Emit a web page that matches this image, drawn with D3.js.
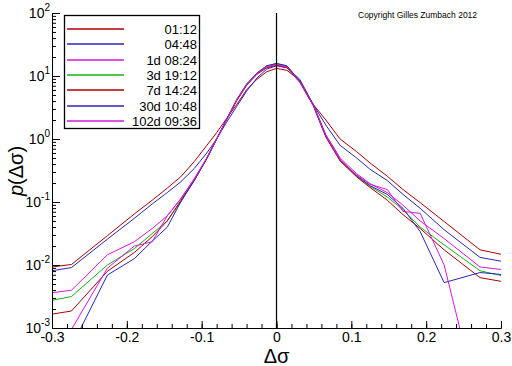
<!DOCTYPE html>
<html>
<head>
<meta charset="utf-8">
<script src="https://cdn.jsdelivr.net/npm/d3@7"></script>
<style>
  body { margin: 0; background: #fff; }
  svg { display: block; font-family: "Liberation Sans", Arial, sans-serif; }
  .domain { stroke: #000; }
</style>
</head>
<body>
<div id="chart"></div>
<script>
// x grid of the distributions (delta sigma)
var dsig = [-0.3, -0.274, -0.226, -0.19, -0.166, -0.146, -0.128, -0.11, -0.093, -0.08, -0.067, -0.053, -0.04, -0.026, -0.013,
  0, 0.014, 0.031, 0.049, 0.066, 0.085, 0.107, 0.125, 0.148, 0.169, 0.192, 0.224, 0.272, 0.3];

var labels = ['01:12', '04:48', '1d 08:24', '3d 19:12', '7d 14:24', '30d 10:48', '102d 09:36'];
var colors = ['#b00000', '#2828b8', '#d818d8', '#18b018', '#b00000', '#2828b8', '#d818d8'];

var p_0112 = [0.0093, 0.0102, 0.0292, 0.0646, 0.107, 0.166, 0.251, 0.437, 0.794, 1.26, 2.09, 3.55, 6.03, 8.91, 11.7,
  13.2, 12.3, 8.51, 3.55, 2.0, 1.0, 0.631, 0.417, 0.257, 0.158, 0.0977, 0.049, 0.0174, 0.0148];
var p_0448 = [0.0081, 0.0091, 0.0257, 0.055, 0.0933, 0.141, 0.209, 0.339, 0.603, 1.0, 1.82, 3.31, 5.75, 9.33, 12.9,
  14.5, 13.5, 8.91, 3.55, 1.66, 0.794, 0.501, 0.331, 0.219, 0.132, 0.0794, 0.0363, 0.0132, 0.0115];
var p_1d = [0.00363, 0.00398, 0.0145, 0.0234, 0.038, 0.0603, 0.112, 0.234, 0.501, 1.0, 2.0, 4.17, 7.24, 11.0, 14.1,
  15.5, 14.1, 8.32, 3.55, 1.17, 0.501, 0.282, 0.195, 0.141, 0.0891, 0.0501, 0.0263, 0.0093, 0.0085];
var p_3d = [0.00275, 0.00316, 0.01, 0.0182, 0.0316, 0.0501, 0.1, 0.219, 0.49, 1.0, 2.0, 4.17, 7.41, 11.2, 14.5,
  15.8, 14.5, 8.32, 3.47, 1.10, 0.457, 0.257, 0.178, 0.12, 0.0759, 0.0398, 0.0209, 0.0081, 0.0068];
var p_7d = [0.00166, 0.00186, 0.00794, 0.0158, 0.0282, 0.0501, 0.105, 0.219, 0.49, 1.0, 2.0, 4.07, 7.08, 10.7, 13.5,
  14.8, 13.5, 7.94, 3.39, 1.07, 0.447, 0.251, 0.17, 0.107, 0.0631, 0.038, 0.0174, 0.0063, 0.0055];
var p_30d = [0.00025, 0.0005, 0.00692, 0.0126, 0.024, 0.0398, 0.1, 0.219, 0.501, 1.0, 2.04, 4.27, 7.41, 11.2, 14.5,
  15.8, 14.5, 8.32, 3.55, 1.12, 0.468, 0.263, 0.182, 0.132, 0.0794, 0.0339, 0.00525, 0.00759, 0.00708];
var p_102d = [0.00025, 0.00095, 0.0089, 0.02, 0.0234, 0.0603, 0.112, 0.229, 0.501, 1.0, 2.0, 4.17, 7.24, 11.0, 14.1,
  15.1, 13.8, 8.13, 3.47, 1.12, 0.468, 0.269, 0.191, 0.158, 0.0708, 0.0661, 0.01, 0.00005, 0.0000126];

var series = [p_0112, p_0448, p_1d, p_3d, p_7d, p_30d, p_102d];

var xticks = [-0.3, -0.2, -0.1, 0, 0.1, 0.2, 0.3];
var xticklabels = ['-0.3', '-0.2', '-0.1', '0', '0.1', '0.2', '0.3'];
var xminor = d3.range(-15, 16).map(d => d / 50);
var ydecades = [1e-3, 1e-2, 1e-1, 1, 10, 100];
var yexp = ['-3', '-2', '-1', '0', '1', '2'];

var width = 512, height = 366;
var mLeft = 52, mRight = 501, mTop = 13, mBottom = 328;

var svg = d3.select('#chart').append('svg')
  .attr('width', width)
  .attr('height', height);

var x = d3.scaleLinear().domain([-0.3, 0.3]).range([mLeft, mRight]);
var y = d3.scaleLog().domain([1e-3, 1e2]).range([mBottom, mTop]);

svg.append('clipPath').attr('id', 'plotclip')
  .append('rect')
  .attr('x', mLeft).attr('y', mTop)
  .attr('width', mRight - mLeft).attr('height', mBottom - mTop);

// curves
var line = d3.line()
  .x((d, i) => x(dsig[i]))
  .y(d => y(d));

svg.append('g')
  .attr('clip-path', 'url(#plotclip)')
  .selectAll('path')
  .data(series)
  .enter()
  .append('path')
  .attr('d', line)
  .attr('fill', 'none')
  .attr('stroke', (d, i) => colors[i])
  .attr('stroke-width', 1);

// vertical line at 0
svg.append('line')
  .attr('x1', x(0)).attr('x2', x(0))
  .attr('y1', mTop).attr('y2', mBottom)
  .attr('stroke', '#000').attr('stroke-width', 1.2);

// x axis, ticks pointing up
svg.append('g')
  .attr('transform', 'translate(0,' + mBottom + ')')
  .call(d3.axisBottom(x).tickValues(xminor).tickSize(-4).tickFormat('').tickSizeOuter(0));
var xa = svg.append('g')
  .attr('transform', 'translate(0,' + mBottom + ')')
  .call(d3.axisBottom(x).tickValues(xticks).tickSize(-7).tickSizeOuter(0).tickPadding(4)
    .tickFormat((d, i) => xticklabels[i]));
xa.selectAll('text').attr('font-size', 14).attr('fill', '#000').attr('font-family', 'Liberation Sans, Arial, sans-serif');

// y axis (log), ticks pointing right
var yminor = [];
ydecades.slice(0, 5).forEach(d => { for (var k = 2; k < 10; k++) yminor.push(d * k); });
svg.append('g')
  .attr('transform', 'translate(' + mLeft + ',0)')
  .call(d3.axisLeft(y).tickValues(yminor).tickSize(-4).tickFormat('').tickSizeOuter(0));
svg.append('g')
  .attr('transform', 'translate(' + mLeft + ',0)')
  .call(d3.axisLeft(y).tickValues(ydecades).tickSize(-8).tickFormat('').tickSizeOuter(0));
svg.selectAll('.tick line').attr('stroke', '#000');

var ylab = svg.append('g').selectAll('text')
  .data(ydecades)
  .enter()
  .append('text')
  .attr('x', mLeft - 2)
  .attr('y', d => y(d) + 5)
  .attr('text-anchor', 'end')
  .attr('font-size', 14)
  .text('10');
ylab.append('tspan')
  .attr('dy', -7)
  .attr('font-size', 10)
  .text((d, i) => yexp[i]);

// axis titles
svg.append('text')
  .attr('x', x(0))
  .attr('y', 363)
  .attr('text-anchor', 'middle')
  .attr('font-size', 20)
  .text('Δσ');

var yt = svg.append('text')
  .attr('transform', 'translate(23,171) rotate(-90)')
  .attr('text-anchor', 'middle')
  .attr('font-size', 20);
yt.append('tspan').attr('font-style', 'italic').text('p');
yt.append('tspan').text('(Δσ)');

// legend
var lg = svg.append('g');
lg.append('rect')
  .attr('x', 64.5).attr('y', 15.5)
  .attr('width', 135).attr('height', 113)
  .attr('fill', '#fff').attr('stroke', '#000').attr('stroke-width', 1.3);
labels.forEach(function(lab, i) {
  var ly = Math.round(29 + i * 15.3);
  lg.append('line')
    .attr('x1', 67).attr('x2', 124)
    .attr('y1', ly).attr('y2', ly)
    .attr('stroke', colors[i]).attr('stroke-width', 1.3);
  lg.append('text')
    .attr('x', 197).attr('y', ly + 5)
    .attr('text-anchor', 'end')
    .attr('font-size', 13)
    .text(lab);
});

svg.append('text')
  .attr('x', 358).attr('y', 18)
  .attr('font-size', 8.5)
  .text('Copyright Gilles Zumbach 2012');
</script>
</body>
</html>
